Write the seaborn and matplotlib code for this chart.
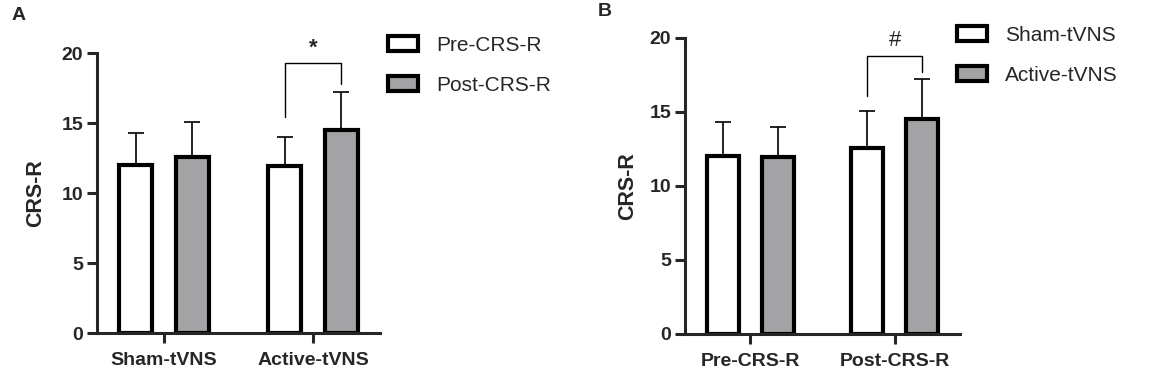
import matplotlib
matplotlib.use("Agg")
import matplotlib.pyplot as plt
import seaborn as sns
import pandas as pd
import numpy as np

sns.set_style("ticks")
plt.rcParams['font.family'] = ['Liberation Sans', 'DejaVu Sans']

# ---- data ----
groups = ["Sham-tVNS", "Active-tVNS"]
times = ["Pre-CRS-R", "Post-CRS-R"]
pre_mean = [12.0, 11.95]     # Sham, Active
post_mean = [12.6, 14.5]
pre_sd = [2.3, 2.05]
post_sd = [2.5, 2.75]
y_ticks = [0, 5, 10, 15, 20]

rows = []
for i, g in enumerate(groups):
    rows.append(dict(group=g, time=times[0], mean=pre_mean[i], sd=pre_sd[i]))
    rows.append(dict(group=g, time=times[1], mean=post_mean[i], sd=post_sd[i]))
df = pd.DataFrame(rows)

GRAY = "#a3a3a7"
EDGE_LW = 3.0
AX_LW = 2.2

fig = plt.figure(figsize=(11.7, 3.82), dpi=100)
axA = fig.add_axes([97/1170, 1-333/382, (380-97)/1170, (333-53)/382])
axB = fig.add_axes([685/1170, 1-334/382, (960-685)/1170, (334-38)/382])


def panel(ax, xcol, hcol, xorder, horder, bracket_x_cat, legend_anchor, sig, levels, labelpad):
    sns.barplot(data=df, x=xcol, y="mean", hue=hcol, order=xorder, hue_order=horder,
                palette=["white", GRAY], edgecolor="black", linewidth=EDGE_LW,
                width=0.76, gap=0.42, errorbar=None, ax=ax)
    bar_containers = list(ax.containers)
    centers = {}
    for hi, cont in enumerate(bar_containers):
        for xi, bar in enumerate(cont):
            sub = df[(df[xcol] == xorder[xi]) & (df[hcol] == horder[hi])].iloc[0]
            cx = bar.get_x() + bar.get_width() / 2
            centers[(xi, hi)] = (cx, sub["mean"] + sub["sd"])
            ax.errorbar(cx, sub["mean"], yerr=[[0], [sub["sd"]]], fmt="none",
                        ecolor="black", elinewidth=1.2, capsize=6, capthick=1.2, zorder=1)
            bar.set_zorder(2)
    # significance bracket
    x0 = centers[(bracket_x_cat, 0)][0]
    x1 = centers[(bracket_x_cat, 1)][0]
    yl, yr, yt = levels
    ax.plot([x0, x0, x1, x1], [yl, yt, yt, yr], color="black", lw=1.0, clip_on=False)
    ax.text((x0 + x1) / 2, yt + 0.3, sig, ha="center", va="bottom", fontsize=16,
            fontweight="bold" if sig == "*" else "normal")

    ax.set_ylim(0, 20)
    ax.set_xlim(-0.45, 1.45)
    ax.set_yticks(y_ticks)
    ax.set_ylabel("CRS-R", fontsize=15.5, fontweight="bold", labelpad=labelpad)
    ax.set_xlabel("")
    for lab in ax.get_xticklabels() + ax.get_yticklabels():
        lab.set_fontweight("bold")
        lab.set_fontsize(14)
    ax.tick_params(axis="both", width=AX_LW, length=7, direction="out", pad=3)
    ax.tick_params(axis="x", pad=6.5)
    sns.despine(ax=ax)
    for s in ["left", "bottom"]:
        ax.spines[s].set_linewidth(AX_LW)
    h, l = ax.get_legend_handles_labels()
    ax.legend(h, l, loc="upper left", bbox_to_anchor=legend_anchor, bbox_transform=fig.transFigure,
              frameon=False, fontsize=15, handlelength=1.45, handleheight=0.7,
              handletextpad=0.85, labelspacing=1.0, borderaxespad=0, borderpad=0)


panel(axA, "group", "time", groups, times, 1, (388/1170, 1-36/382), "*", (15.4, 17.8, 19.3), 11)
panel(axB, "time", "group", times, groups, 1, (957/1170, 1-26/382), "#", (16.1, 17.7, 18.8), 8)

fig.text(12/1170, 1-15/382, "A", fontsize=14, fontweight="bold", ha="left", va="center")
fig.text(598/1170, 1-12/382, "B", fontsize=14, fontweight="bold", ha="left", va="center")

fig.savefig("out.png", dpi=100)
